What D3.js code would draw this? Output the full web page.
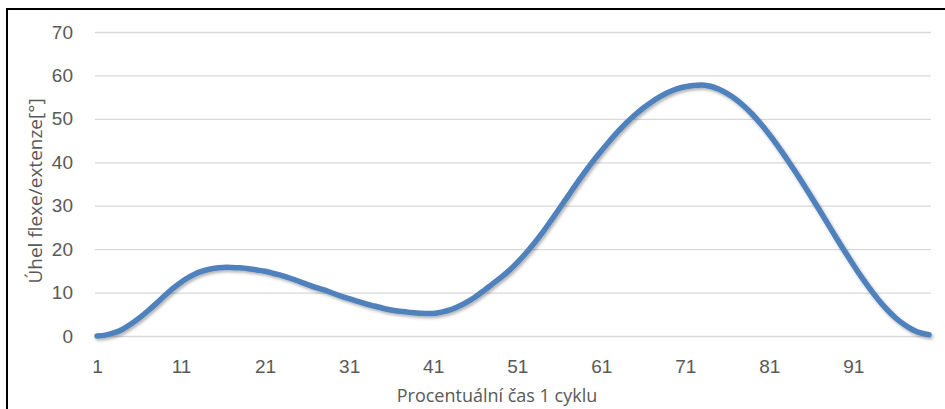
<!DOCTYPE html>
<html>
<head>
<meta charset="utf-8">
<script src="https://cdnjs.cloudflare.com/ajax/libs/d3/7.8.4/d3.min.js"></script>
<style>
  body { margin: 0; background: #fff; }
  svg { display: block; font-family: "Open Sans", sans-serif; }
</style>
</head>
<body>
<div id="chart"></div>
<script>
// procentuální čas (1..100)
const casy = d3.range(1, 101);
// úhel flexe/extenze [°]
const uhly = [
  0, 0.2, 0.7, 1.5, 2.7, 4.1, 5.7, 7.4, 9.2, 10.9,
  12.4, 13.6, 14.6, 15.2, 15.6, 15.8, 15.8, 15.7, 15.5, 15.2,
  14.9, 14.4, 13.9, 13.3, 12.6, 11.9, 11.2, 10.6, 9.9, 9.2,
  8.6, 8.0, 7.4, 6.9, 6.4, 6.0, 5.7, 5.5, 5.3, 5.2,
  5.2, 5.5, 6.0, 6.8, 7.8, 9.0, 10.4, 11.9, 13.4, 15.0,
  16.9, 19.0, 21.3, 23.8, 26.5, 29.3, 32.1, 34.9, 37.6, 40.2,
  42.6, 44.9, 47.1, 49.1, 50.9, 52.5, 53.9, 55.1, 56.1, 56.9,
  57.4, 57.7, 57.8, 57.5, 56.8, 55.8, 54.5, 52.9, 51.0, 48.8,
  46.4, 43.8, 41.0, 38.1, 35.1, 32.0, 28.9, 25.7, 22.5, 19.4,
  16.4, 13.5, 10.8, 8.3, 6.1, 4.2, 2.7, 1.5, 0.7, 0.3
];
const popiskyX = [1, 11, 21, 31, 41, 51, 61, 71, 81, 91];
const tickyY = [0, 10, 20, 30, 40, 50, 60, 70];

const data = casy.map((c, i) => ({ cas: c, uhel: uhly[i] }));

const W = 945, H = 409;
const svg = d3.select("#chart").append("svg")
  .attr("width", W).attr("height", H);

// rámeček grafu
svg.append("rect")
  .attr("x", 7).attr("y", 9)
  .attr("width", 980).attr("height", 440)
  .attr("fill", "none").attr("stroke", "#000").attr("stroke-width", 2);

const x = d3.scalePoint().domain(casy).range([97, 929]);
const y = d3.scaleLinear().domain([0, 70]).range([336, 32]);

// mřížka + popisky osy Y
const gy = svg.append("g")
  .attr("transform", "translate(95,0)")
  .call(d3.axisLeft(y).tickValues(tickyY).tickSize(-836).tickPadding(22));
gy.select(".domain").remove();
gy.selectAll(".tick line").attr("stroke", "#d9d9d9").attr("stroke-width", 1.3);
gy.selectAll(".tick text").attr("fill", "#595959").style("font-size", "19px");

// osa X
const gx = svg.append("g")
  .attr("transform", "translate(0,336)")
  .call(d3.axisBottom(x).tickValues(popiskyX).tickSize(0).tickPadding(24));
gx.select(".domain").remove();
gx.selectAll(".tick text").attr("fill", "#595959").style("font-size", "19px");

// stín čáry
const defs = svg.append("defs");
const f = defs.append("filter").attr("id", "stin")
  .attr("x", "-5%").attr("y", "-5%").attr("width", "110%").attr("height", "120%");
f.append("feDropShadow")
  .attr("dx", 1.5).attr("dy", 2).attr("stdDeviation", 1.5)
  .attr("flood-color", "#000").attr("flood-opacity", 0.3);

const line = d3.line()
  .x(d => x(d.cas))
  .y(d => y(d.uhel))
  .curve(d3.curveCatmullRom.alpha(0.5));

svg.append("path")
  .datum(data)
  .attr("fill", "none")
  .attr("stroke", "#4f81bd")
  .attr("stroke-width", 5.5)
  .attr("stroke-linecap", "round")
  .attr("stroke-linejoin", "round")
  .attr("filter", "url(#stin)")
  .attr("d", line);

// názvy os
svg.append("text")
  .attr("x", 497).attr("y", 402)
  .attr("text-anchor", "middle")
  .attr("fill", "#595959")
  .style("font-size", "18px")
  .text("Procentuální čas 1 cyklu");

svg.append("text")
  .attr("transform", "translate(42,191) rotate(-90)")
  .attr("text-anchor", "middle")
  .attr("fill", "#595959")
  .style("font-size", "19px")
  .text("Úhel flexe/extenze[°]");
</script>
</body>
</html>
